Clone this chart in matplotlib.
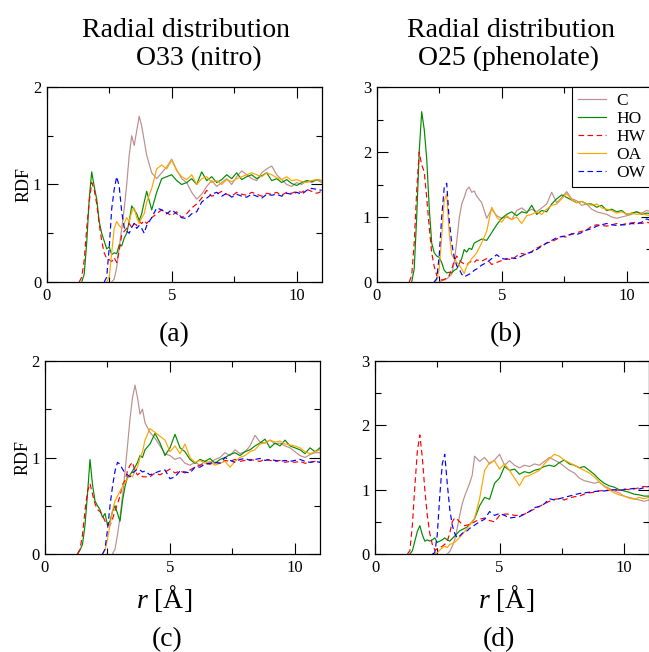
import matplotlib
matplotlib.use("Agg")
import matplotlib.pyplot as plt
from matplotlib.ticker import MultipleLocator

# ---------------- data ----------------
r = [1.2, 1.3, 1.4, 1.5, 1.6, 1.7, 1.8, 1.9, 2.0, 2.1, 2.2, 2.3, 2.4, 2.5, 2.6,
     2.7, 2.8, 2.9, 3.0, 3.1, 3.2, 3.3, 3.4, 3.5, 3.6, 3.7, 3.8, 3.9, 4.0,
     4.2, 4.4, 4.6, 4.8, 5.0, 5.2, 5.4, 5.6, 5.8, 6.0, 6.2, 6.4, 6.6, 6.8, 7.0,
     7.2, 7.4, 7.6, 7.8, 8.0, 8.2, 8.4, 8.6, 8.8, 9.0, 9.2, 9.4, 9.6, 9.8, 10.0,
     10.2, 10.4, 10.6, 10.8, 11.0]

species = ["C", "HO", "HW", "OA", "OW"]

# panel (a): O33 (nitro), set 1
a_C = [0, 0, 0, 0, 0, 0, 0, 0, 0, 0, 0, 0, 0, 0, 0,
       0.03, 0.15, 0.35, 0.55, 0.75, 1.0, 1.3, 1.5, 1.4, 1.55, 1.7, 1.6, 1.45, 1.3,
       1.12, 1.06, 1.12, 1.18, 1.26, 1.15, 1.06, 1.02, 0.92, 0.85, 0.9, 0.98, 1.04, 0.98, 1.02,
       1.06, 1.0, 1.08, 1.14, 1.1, 1.06, 1.04, 1.12, 1.16, 1.19, 1.1, 1.05, 1.0, 0.98, 1.02,
       1.0, 1.04, 1.02, 1.05, 1.02]
a_HO = [0, 0, 0, 0.08, 0.4, 0.85, 1.13, 0.98, 0.85, 0.62, 0.5, 0.42, 0.34, 0.36, 0.28,
        0.3, 0.29, 0.38, 0.37, 0.45, 0.5, 0.62, 0.78, 0.74, 0.7, 0.63, 0.7, 0.82, 0.93,
        0.74, 0.92, 1.06, 1.08, 1.1, 1.04, 1.0, 1.02, 1.06, 1.0, 1.13, 1.04, 1.08, 1.02, 1.05,
        1.1, 1.06, 1.12, 1.05, 1.08, 1.1, 1.06, 1.09, 1.12, 1.04, 1.06, 1.02, 1.05, 1.01, 0.99,
        1.02, 1.04, 1.03, 1.05, 1.04]
a_HW = [0, 0, 0.05, 0.22, 0.55, 0.82, 1.02, 0.95, 0.8, 0.6, 0.42, 0.3, 0.24, 0.23, 0.21,
        0.25, 0.2, 0.32, 0.48, 0.52, 0.55, 0.6, 0.56, 0.6, 0.58, 0.62, 0.6, 0.63, 0.6,
        0.66, 0.7, 0.74, 0.71, 0.68, 0.72, 0.66, 0.7, 0.76, 0.8, 0.86, 0.94, 0.88, 0.9, 0.93,
        0.9, 0.88, 0.92, 0.9, 0.89, 0.92, 0.9, 0.88, 0.91, 0.9, 0.92, 0.89, 0.92, 0.91, 0.93,
        0.92, 0.95, 0.93, 0.91, 0.93]
a_OA = [0, 0, 0, 0, 0, 0, 0, 0, 0, 0, 0, 0, 0, 0.05, 0.3,
        0.55, 0.62, 0.58, 0.55, 0.6, 0.66, 0.62, 0.72, 0.76, 0.66, 0.6, 0.66, 0.7, 0.82,
        0.96, 1.16, 1.2, 1.16, 1.25, 1.14, 1.08, 1.05, 1.1, 1.0, 1.06, 1.08, 1.02, 1.04, 1.0,
        1.05, 1.03, 1.06, 1.08, 1.1, 1.12, 1.1, 1.08, 1.12, 1.1, 1.07, 1.05, 1.08, 1.04, 1.05,
        1.03, 1.02, 1.04, 1.05, 1.04]
a_OW = [0, 0, 0, 0, 0, 0, 0, 0, 0, 0, 0, 0, 0.05, 0.35, 0.75,
        0.95, 1.08, 0.98, 0.72, 0.56, 0.52, 0.5, 0.56, 0.6, 0.55, 0.58, 0.55, 0.5, 0.58,
        0.66, 0.76, 0.74, 0.7, 0.74, 0.7, 0.66, 0.65, 0.7, 0.72, 0.82, 0.86, 0.9, 0.92, 0.88,
        0.91, 0.87, 0.9, 0.88, 0.87, 0.9, 0.88, 0.86, 0.9, 0.89, 0.9, 0.88, 0.91, 0.9, 0.92,
        0.9, 0.94, 0.96, 0.95, 0.94]

# panel (b): O25 (phenolate), set 1
b_C = [0, 0, 0, 0, 0, 0, 0, 0, 0, 0, 0, 0, 0, 0, 0.02,
       0.03, 0.05, 0.08, 0.12, 0.3, 0.62, 0.98, 1.2, 1.3, 1.42, 1.46, 1.38, 1.4, 1.32,
       1.22, 0.98, 1.12, 1.02, 0.98, 1.0, 0.96, 1.1, 1.14, 1.08, 1.12, 1.08, 1.14, 1.2, 1.38,
       1.22, 1.3, 1.39, 1.28, 1.25, 1.18, 1.2, 1.12, 1.08, 1.06, 1.04, 1.0, 0.98, 1.0, 1.02,
       1.04, 1.08, 1.06, 1.1, 1.08]
b_HO = [0, 0, 0, 0.2, 1.0, 2.0, 2.62, 2.35, 1.9, 1.15, 0.6, 0.45, 0.4, 0.38, 0.3,
        0.18, 0.14, 0.15, 0.14, 0.18, 0.2, 0.28, 0.36, 0.5, 0.46, 0.52, 0.5, 0.6, 0.62,
        0.66, 0.64, 0.76, 0.88, 0.98, 1.04, 1.08, 1.02, 1.08, 1.06, 1.18, 1.04, 1.1, 1.08, 1.2,
        1.28, 1.34, 1.3, 1.26, 1.22, 1.24, 1.2, 1.2, 1.15, 1.18, 1.1, 1.12, 1.08, 1.1, 1.04,
        1.06, 1.08, 1.04, 1.06, 1.05]
b_HW = [0, 0, 0.1, 0.6, 1.4, 2.0, 1.8, 1.7, 1.3, 0.85, 0.45, 0.24, 0.1, 0.05, 0.03,
        0.04, 0.06, 0.1, 0.2, 0.32, 0.4, 0.34, 0.3, 0.28, 0.26, 0.3, 0.32, 0.3, 0.34,
        0.32, 0.36, 0.27, 0.3, 0.33, 0.36, 0.34, 0.4, 0.44, 0.42, 0.47, 0.52, 0.56, 0.6, 0.62,
        0.66, 0.7, 0.69, 0.74, 0.76, 0.78, 0.8, 0.86, 0.88, 0.87, 0.86, 0.88, 0.9, 0.88, 0.9,
        0.91, 0.92, 0.9, 0.92, 0.9]
b_OA = [0, 0, 0, 0, 0, 0, 0, 0, 0, 0, 0, 0, 0.03, 0.2, 0.7,
        1.25, 1.35, 0.75, 0.42, 0.36, 0.3, 0.26, 0.2, 0.13, 0.24, 0.3, 0.36, 0.4, 0.45,
        0.6, 0.78, 1.15, 1.0, 0.92, 1.02, 0.96, 1.0, 0.9, 1.02, 1.04, 1.08, 1.04, 1.12, 1.18,
        1.2, 1.28, 1.36, 1.26, 1.22, 1.24, 1.2, 1.18, 1.2, 1.14, 1.12, 1.1, 1.06, 1.08, 1.04,
        1.06, 1.04, 1.05, 1.03, 1.02]
b_OW = [0, 0, 0, 0, 0, 0, 0, 0, 0, 0, 0, 0, 0.05, 0.4, 1.0,
        1.45, 1.52, 0.95, 0.6, 0.38, 0.25, 0.2, 0.12, 0.08, 0.1, 0.12, 0.14, 0.18, 0.2,
        0.26, 0.3, 0.36, 0.42, 0.36, 0.35, 0.37, 0.36, 0.4, 0.44, 0.46, 0.5, 0.55, 0.6, 0.64,
        0.68, 0.7, 0.71, 0.74, 0.73, 0.76, 0.8, 0.82, 0.86, 0.88, 0.9, 0.88, 0.87, 0.88, 0.88,
        0.9, 0.89, 0.92, 0.97, 0.94]

# panel (c): O33 (nitro), set 2
c_C = [0, 0, 0, 0, 0, 0, 0, 0, 0, 0, 0, 0, 0, 0, 0,
       0, 0.05, 0.2, 0.38, 0.6, 0.85, 1.12, 1.4, 1.62, 1.75, 1.62, 1.45, 1.5, 1.36,
       1.26, 1.2, 1.12, 1.04, 1.02, 0.98, 1.0, 0.94, 0.92, 0.95, 0.92, 0.96, 0.94, 0.98, 1.0,
       1.05, 1.02, 1.08, 1.04, 1.06, 1.12, 1.23, 1.16, 1.15, 1.18, 1.14, 1.15, 1.12, 1.1, 1.06,
       1.02, 1.0, 1.03, 1.05, 1.05]
c_HO = [0, 0, 0.04, 0.1, 0.3, 0.62, 0.98, 0.72, 0.55, 0.5, 0.46, 0.38, 0.42, 0.3, 0.34,
        0.44, 0.5, 0.42, 0.34, 0.55, 0.7, 0.8, 0.82, 0.86, 0.9, 0.95, 1.02, 1.0, 1.08,
        1.14, 1.25, 1.15, 1.02, 1.1, 1.24, 1.1, 1.06, 0.98, 0.94, 0.98, 0.96, 0.99, 0.94, 0.98,
        1.0, 1.03, 1.05, 1.02, 1.06, 1.08, 1.12, 1.15, 1.19, 1.1, 1.15, 1.12, 1.18, 1.12, 1.1,
        1.08, 1.04, 1.1, 1.06, 1.1]
c_HW = [0, 0, 0.05, 0.2, 0.45, 0.65, 0.73, 0.62, 0.52, 0.46, 0.44, 0.4, 0.34, 0.3, 0.3,
        0.36, 0.45, 0.52, 0.6, 0.72, 0.76, 0.86, 0.92, 0.95, 0.86, 0.82, 0.84, 0.8, 0.8,
        0.8, 0.84, 0.82, 0.85, 0.88, 0.84, 0.86, 0.84, 0.87, 0.9, 0.92, 0.94, 0.93, 0.95, 0.94,
        0.97, 0.96, 0.98, 0.96, 0.97, 0.98, 0.97, 0.96, 0.98, 0.97, 0.96, 0.97, 0.95, 0.96, 0.95,
        0.96, 0.94, 0.95, 0.96, 0.95]
c_OA = [0, 0, 0, 0, 0, 0, 0, 0, 0, 0, 0, 0, 0.04, 0.15, 0.3,
        0.45, 0.55, 0.6, 0.65, 0.7, 0.74, 0.78, 0.82, 0.8, 0.86, 0.9, 1.0, 1.06, 1.18,
        1.3, 1.26, 1.22, 1.18, 1.06, 1.12, 1.04, 1.14, 1.0, 0.95, 0.97, 0.94, 0.96, 0.92, 0.94,
        0.96, 0.9, 0.96, 1.0, 1.02, 1.06, 1.08, 1.14, 1.15, 1.18, 1.16, 1.17, 1.14, 1.13, 1.12,
        1.1, 1.06, 1.04, 1.06, 1.08]
c_OW = [0, 0, 0, 0, 0, 0, 0, 0, 0, 0, 0, 0, 0.05, 0.25, 0.5,
        0.7, 0.86, 0.95, 0.93, 0.88, 0.84, 0.82, 0.8, 0.84, 0.86, 0.88, 0.87, 0.85, 0.86,
        0.82, 0.84, 0.86, 0.87, 0.78, 0.8, 0.86, 0.85, 0.84, 0.9, 0.9, 0.93, 0.94, 0.95, 0.94,
        1.0, 0.97, 0.95, 0.98, 0.99, 0.97, 0.98, 0.99, 0.97, 0.98, 0.97, 0.96, 0.97, 0.96, 0.97,
        0.98, 0.96, 0.95, 0.96, 0.95]

# panel (d): O25 (phenolate), set 2
d_C = [0, 0, 0, 0, 0, 0, 0, 0, 0, 0, 0, 0, 0, 0, 0,
       0, 0, 0, 0.04, 0.12, 0.22, 0.4, 0.6, 0.78, 0.9, 1.0, 1.1, 1.22, 1.52,
       1.44, 1.5, 1.4, 1.46, 1.55, 1.38, 1.45, 1.38, 1.34, 1.38, 1.36, 1.4, 1.38, 1.44, 1.5,
       1.46, 1.42, 1.36, 1.3, 1.26, 1.18, 1.14, 1.12, 1.1, 1.12, 1.06, 1.02, 0.98, 0.95, 0.9,
       0.88, 0.86, 0.84, 0.82, 0.84]
d_HO = [0, 0, 0, 0.05, 0.2, 0.35, 0.44, 0.3, 0.2, 0.22, 0.2, 0.22, 0.25, 0.18, 0.2,
        0.22, 0.25, 0.22, 0.2, 0.24, 0.28, 0.32, 0.36, 0.38, 0.4, 0.42, 0.46, 0.5, 0.55,
        0.75, 0.88, 0.85, 1.1, 1.18, 1.36, 1.3, 1.32, 1.24, 1.28, 1.26, 1.3, 1.32, 1.36, 1.38,
        1.36, 1.42, 1.46, 1.4, 1.38, 1.34, 1.36, 1.3, 1.24, 1.16, 1.1, 1.06, 1.04, 1.0, 0.98,
        0.96, 0.93, 0.92, 0.9, 0.9]
d_HW = [0, 0, 0.05, 0.45, 1.05, 1.6, 1.85, 1.5, 1.0, 0.6, 0.32, 0.15, 0.06, 0.08, 0.1,
        0.12, 0.15, 0.2, 0.32, 0.5, 0.56, 0.54, 0.5, 0.46, 0.44, 0.45, 0.46, 0.48, 0.5,
        0.54, 0.56, 0.52, 0.5, 0.6, 0.62, 0.62, 0.6, 0.6, 0.62, 0.66, 0.7, 0.74, 0.78, 0.82,
        0.85, 0.86, 0.84, 0.87, 0.89, 0.9, 0.93, 0.95, 0.96, 0.98, 0.99, 0.99, 1.0, 0.99, 1.01,
        1.0, 1.01, 1.03, 1.05, 1.04]
d_OA = [0, 0, 0, 0, 0, 0, 0, 0, 0, 0, 0, 0, 0, 0.02, 0.06,
        0.1, 0.12, 0.1, 0.15, 0.16, 0.18, 0.22, 0.26, 0.3, 0.35, 0.4, 0.45, 0.5, 0.56,
        0.86, 1.3, 1.42, 1.45, 1.32, 1.4, 1.3, 1.18, 1.06, 1.2, 1.22, 1.26, 1.3, 1.4, 1.48,
        1.55, 1.52, 1.46, 1.42, 1.38, 1.34, 1.3, 1.26, 1.2, 1.12, 1.05, 1.0, 0.95, 0.92, 0.9,
        0.87, 0.85, 0.88, 0.86, 0.88]
d_OW = [0, 0, 0, 0, 0, 0, 0, 0, 0, 0, 0, 0, 0.02, 0.3, 0.9,
        1.4, 1.55, 1.1, 0.7, 0.45, 0.32, 0.25, 0.28, 0.32, 0.35, 0.36, 0.4, 0.42, 0.45,
        0.5, 0.54, 0.66, 0.6, 0.63, 0.6, 0.56, 0.57, 0.58, 0.62, 0.66, 0.72, 0.74, 0.78, 0.86,
        0.84, 0.86, 0.88, 0.9, 0.92, 0.94, 0.95, 0.96, 0.97, 0.98, 0.98, 0.99, 1.0, 0.99, 1.0,
        1.01, 1.02, 1.01, 1.03, 1.05]

panel_titles = [("Radial distribution", "O33 (nitro)"),
                ("Radial distribution", "O25 (phenolate)")]
panel_tags = ["(a)", "(b)", "(c)", "(d)"]
ylims = [2, 3, 2, 3]

# ---------------- style ----------------
plt.rcParams.update({
    "font.family": ["Liberation Serif", "DejaVu Serif"],
    "mathtext.fontset": "custom",
    "mathtext.rm": "Liberation Serif",
    "mathtext.it": "Liberation Serif:italic",
    "lines.scale_dashes": False,
})

colors = {"C": "#bc8f8f", "HO": "#008b00", "HW": "#ff0000",
          "OA": "#ffa500", "OW": "#0000ff"}
dashes = {"C": None, "HO": None, "HW": (4.0, 2.5), "OA": None, "OW": (4.0, 2.5)}

W, H = 649.0, 652.0
fig = plt.figure(figsize=(W / 100, H / 100), dpi=100)


def box(l, rr, t, b):
    return [l / W, 1 - b / H, (rr - l) / W, (b - t) / H]


boxes = [box(46.7, 321.7, 87, 282), box(376.7, 651.7, 87, 282),
         box(45, 320, 361, 554), box(375, 649, 361, 554)]
data = [
    dict(C=a_C, HO=a_HO, HW=a_HW, OA=a_OA, OW=a_OW),
    dict(C=b_C, HO=b_HO, HW=b_HW, OA=b_OA, OW=b_OW),
    dict(C=c_C, HO=c_HO, HW=c_HW, OA=c_OA, OW=c_OW),
    dict(C=d_C, HO=d_HO, HW=d_HW, OA=d_OA, OW=d_OW),
]

axes = []
for i, (bx, d, ym) in enumerate(zip(boxes, data, ylims)):
    ax = fig.add_axes(bx)
    axes.append(ax)
    for sp in species:
        ys = d[sp]
        # start the curve at its onset (the zero baseline lies under the axis)
        k = next(j for j, v in enumerate(ys) if v > 0)
        k = max(k - 1, 0)
        ln, = ax.plot(r[k:], ys[k:], color=colors[sp], lw=0.85, label=sp)
        if dashes[sp] is not None:
            ln.set_dashes(dashes[sp])
    ax.set_xlim(0, 11)
    ax.set_ylim(0, ym)
    ax.xaxis.set_major_locator(MultipleLocator(5))
    ax.xaxis.set_minor_locator(MultipleLocator(2.5))
    ax.yaxis.set_major_locator(MultipleLocator(1))
    ax.yaxis.set_minor_locator(MultipleLocator(0.5))
    ax.tick_params(which="both", direction="in", top=True, right=True,
                   width=0.8, labelsize=12, pad=4)
    ax.tick_params(which="major", length=8)
    ax.tick_params(which="minor", length=4.5)
    for s in ax.spines.values():
        s.set_linewidth(0.9)

for ax in (axes[0], axes[2]):
    ax.set_ylabel("RDF", fontsize=13, labelpad=0)

axes[2].set_xlabel("$r$ [Å]", fontsize=20)
axes[3].set_xlabel("$r$ [Å]", fontsize=20)
axes[2].xaxis.set_label_coords((164 - 45) / 275, -0.15)
axes[3].xaxis.set_label_coords((506 - 375) / 274, -0.15)

leg = axes[1].legend(loc="upper right", borderaxespad=0, fancybox=False,
                     edgecolor="black", framealpha=1, fontsize=12.5,
                     handlelength=1.6, handletextpad=0.6, labelspacing=0.1,
                     borderpad=0.35)
leg.get_frame().set_linewidth(0.8)

# titles
fig.text(186 / W, 1 - 36.7 / H, panel_titles[0][0], ha="center", va="baseline", fontsize=20)
fig.text(199 / W, 1 - 65 / H, panel_titles[0][1], ha="center", va="baseline", fontsize=20)
fig.text(511 / W, 1 - 36.7 / H, panel_titles[1][0], ha="center", va="baseline", fontsize=20)
fig.text(508 / W, 1 - 65 / H, panel_titles[1][1], ha="center", va="baseline", fontsize=20)

# panel tags
for tag, (x, y) in zip(panel_tags, [(174, 341), (506, 341), (167, 646), (499, 646)]):
    fig.text(x / W, 1 - y / H, tag, ha="center", va="baseline", fontsize=20)

fig.savefig("out.png", dpi=100)
